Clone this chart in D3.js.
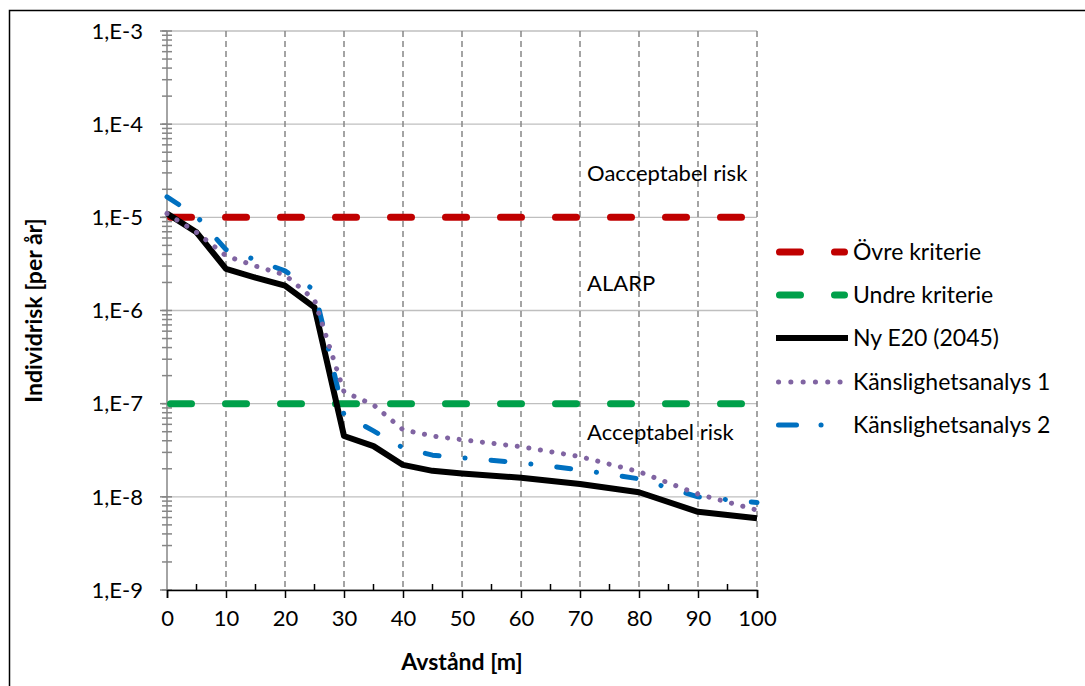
<!DOCTYPE html>
<html>
<head>
<meta charset="utf-8">
<script src="https://cdn.jsdelivr.net/npm/d3@7"></script>
<style>
    body { margin: 0; background: #fff; }
    svg text { font-family: Lato, "Open Sans", sans-serif; fill: #000; }
</style>
</head>
<body>
<div id="chart"></div>
<script>
// avstånd i meter
const distances = [0, 5, 10, 15, 20, 25, 30, 35, 40, 45, 50, 60, 70, 80, 90, 100];
const nyE20 = [1.1e-5, 6.9e-6, 2.8e-6, 2.25e-6, 1.85e-6, 1.08e-6, 4.5e-8, 3.5e-8, 2.2e-8, 1.9e-8, 1.78e-8, 1.6e-8, 1.37e-8, 1.12e-8, 6.9e-9, 5.9e-9];
const kanslighet1 = [1.1e-5, 6.9e-6, 3.86e-6, 3.0e-6, 2.41e-6, 1.3e-6, 1.34e-7, 9.7e-8, 5.25e-8, 4.5e-8, 4.1e-8, 3.45e-8, 2.7e-8, 1.86e-8, 1.07e-8, 7.2e-9];
const kanslighet2 = [1.66e-5, 1.03e-5, 4.5e-6, 3.5e-6, 2.66e-6, 1.66e-6, 7.6e-8, 5.1e-8, 3.36e-8, 2.8e-8, 2.63e-8, 2.32e-8, 1.95e-8, 1.56e-8, 1.0e-8, 8.7e-9];
const ovreKriterie = 1e-5;
const undreKriterie = 1e-7;

const xTicks = [0, 10, 20, 30, 40, 50, 60, 70, 80, 90, 100];
const yTicks = [1e-3, 1e-4, 1e-5, 1e-6, 1e-7, 1e-8, 1e-9];
const yTickLabels = ['1,E-3', '1,E-4', '1,E-5', '1,E-6', '1,E-7', '1,E-8', '1,E-9'];
const seriesNames = ['Övre kriterie', 'Undre kriterie', 'Ny E20 (2045)', 'Känslighetsanalys 1', 'Känslighetsanalys 2'];
const zoneLabels = ['Oacceptabel risk', 'ALARP', 'Acceptabel risk'];

const width = 1085, height = 686;
const plot = {left: 167, right: 757, top: 31, bottom: 590};

let svg = d3.select('#chart').append('svg')
    .attr('width', width)
    .attr('height', height);

// yttre ram
svg.append('rect')
    .attr('x', 9.5).attr('y', 10.5)
    .attr('width', 1090).attr('height', 700)
    .attr('fill', '#fff')
    .attr('stroke', '#000')
    .attr('stroke-width', 1.5);

let x = d3.scaleLinear().domain([0, 100]).range([plot.left, plot.right]);
let y = d3.scaleLog().domain([1e-9, 1e-3]).range([plot.bottom, plot.top]);

let g = svg.append('g');

// horisontella stödlinjer
g.selectAll('.hgrid')
    .data(yTicks)
    .enter().append('line')
    .attr('class', 'hgrid')
    .attr('x1', plot.left).attr('x2', plot.right)
    .attr('y1', d => y(d)).attr('y2', d => y(d))
    .attr('stroke', '#bfbfbf')
    .attr('stroke-width', 1.3);

// vertikala streckade stödlinjer
g.selectAll('.vgrid')
    .data(xTicks.slice(1))
    .enter().append('line')
    .attr('class', 'vgrid')
    .attr('x1', d => x(d)).attr('x2', d => x(d))
    .attr('y1', plot.top).attr('y2', plot.bottom)
    .attr('stroke', '#868686')
    .attr('stroke-width', 1.5)
    .attr('stroke-dasharray', '6,4');

// y-axel (grå) med små streck
g.append('line')
    .attr('x1', plot.left).attr('x2', plot.left)
    .attr('y1', plot.top).attr('y2', plot.bottom)
    .attr('stroke', '#868686')
    .attr('stroke-width', 1.5);

g.selectAll('.yminor')
    .data(y.ticks())
    .enter().append('line')
    .attr('class', 'yminor')
    .attr('x1', plot.left - 5).attr('x2', plot.left + 5)
    .attr('y1', d => y(d)).attr('y2', d => y(d))
    .attr('stroke', '#868686')
    .attr('stroke-width', 1.5);

g.selectAll('.ymajor')
    .data(yTicks)
    .enter().append('line')
    .attr('class', 'ymajor')
    .attr('x1', plot.left - 7).attr('x2', plot.left)
    .attr('y1', d => y(d)).attr('y2', d => y(d))
    .attr('stroke', '#868686')
    .attr('stroke-width', 1.5);

g.selectAll('.ylabel')
    .data(yTicks)
    .enter().append('text')
    .attr('class', 'ylabel')
    .attr('x', 143)
    .attr('y', d => y(d))
    .attr('dy', '0.35em')
    .attr('text-anchor', 'end')
    .style('font-size', '22px')
    .text((d, i) => yTickLabels[i]);

// x-axel (svart)
let xAxis = d3.axisBottom(x)
    .tickValues(xTicks)
    .tickSize(8)
    .tickPadding(12)
    .tickFormat(d3.format('d'));

let xg = g.append('g')
    .attr('transform', `translate(0,${plot.bottom})`)
    .call(xAxis);
xg.select('.domain').attr('stroke', '#000').attr('stroke-width', 1.5);
xg.selectAll('.tick line').attr('stroke', '#000').attr('stroke-width', 1.5);
xg.selectAll('.tick text')
    .style('font-size', '22px')
    .style('font-family', 'Lato, sans-serif')
    .attr('fill', '#000');

g.selectAll('.xminor')
    .data(d3.range(5, 100, 10))
    .enter().append('line')
    .attr('class', 'xminor')
    .attr('x1', d => x(d)).attr('x2', d => x(d))
    .attr('y1', plot.bottom - 6).attr('y2', plot.bottom)
    .attr('stroke', '#000')
    .attr('stroke-width', 1.5);

// axeltitlar
svg.append('text')
    .attr('x', (plot.left + plot.right) / 2)
    .attr('y', 670)
    .attr('text-anchor', 'middle')
    .style('font-size', '23px')
    .style('font-weight', 'bold')
    .text('Avstånd [m]');

svg.append('text')
    .attr('transform', `translate(42,${(plot.top + plot.bottom) / 2}) rotate(-90)`)
    .attr('text-anchor', 'middle')
    .style('font-size', '23px')
    .style('font-weight', 'bold')
    .text('Individrisk [per år]');

// zontexter
let zoneY = [3e-5, 1.98e-6, 4.9e-8];
svg.selectAll('.zone')
    .data(zoneLabels)
    .enter().append('text')
    .attr('class', 'zone')
    .attr('x', x(71.2))
    .attr('y', (d, i) => y(zoneY[i]))
    .attr('dy', '0.35em')
    .style('font-size', '22px')
    .text(d => d);

// serier
const styles = [
    {color: '#c00000', width: 7, dash: '21,34', cap: 'round'},
    {color: '#00a04a', width: 7, dash: '21,34', cap: 'round'},
    {color: '#000000', width: 6, dash: null, cap: 'butt'},
    {color: '#8064a2', width: 5, dash: '0.1,11.6', cap: 'round'},
    {color: '#0070c0', width: 5, dash: '14,26,0.1,26', cap: 'round'}
];

let line = d3.line()
    .x(d => x(d[0]))
    .y(d => y(d[1]));

let seriesData = [
    [[0, ovreKriterie], [100, ovreKriterie]],
    [[0, undreKriterie], [100, undreKriterie]],
    distances.map((d, i) => [d, nyE20[i]]),
    distances.map((d, i) => [d, kanslighet1[i]]),
    distances.map((d, i) => [d, kanslighet2[i]])
];

let drawOrder = [0, 1, 2, 4, 3];
drawOrder.forEach(i => {
    let s = styles[i];
    svg.append('path')
        .datum(seriesData[i])
        .attr('fill', 'none')
        .attr('stroke', s.color)
        .attr('stroke-width', s.width)
        .attr('stroke-linecap', s.cap)
        .attr('stroke-linejoin', 'round')
        .attr('stroke-dasharray', s.dash)
        .attr('transform', i < 2 ? 'translate(3.5,0)' : null)
        .attr('d', line);
});

// legend
const legendDash = ['21,34', '21,34', null, '0.1,12.2', '18,24.5,0.1,25,0.1,100'];
let legend = svg.append('g').attr('transform', 'translate(776,0)');
let rowY = [252, 295, 338, 382, 425];
seriesNames.forEach((name, i) => {
    let s = styles[i];
    let inset = s.cap === 'round' ? s.width / 2 : 0;
    legend.append('line')
        .attr('x1', inset).attr('x2', 72 - inset)
        .attr('y1', rowY[i]).attr('y2', rowY[i])
        .attr('stroke', s.color)
        .attr('stroke-width', s.width)
        .attr('stroke-linecap', s.cap)
        .attr('stroke-dasharray', legendDash[i]);
    legend.append('text')
        .attr('x', 77)
        .attr('y', rowY[i])
        .attr('dy', '0.35em')
        .style('font-size', '23px')
        .text(name);
});
</script>
</body>
</html>
